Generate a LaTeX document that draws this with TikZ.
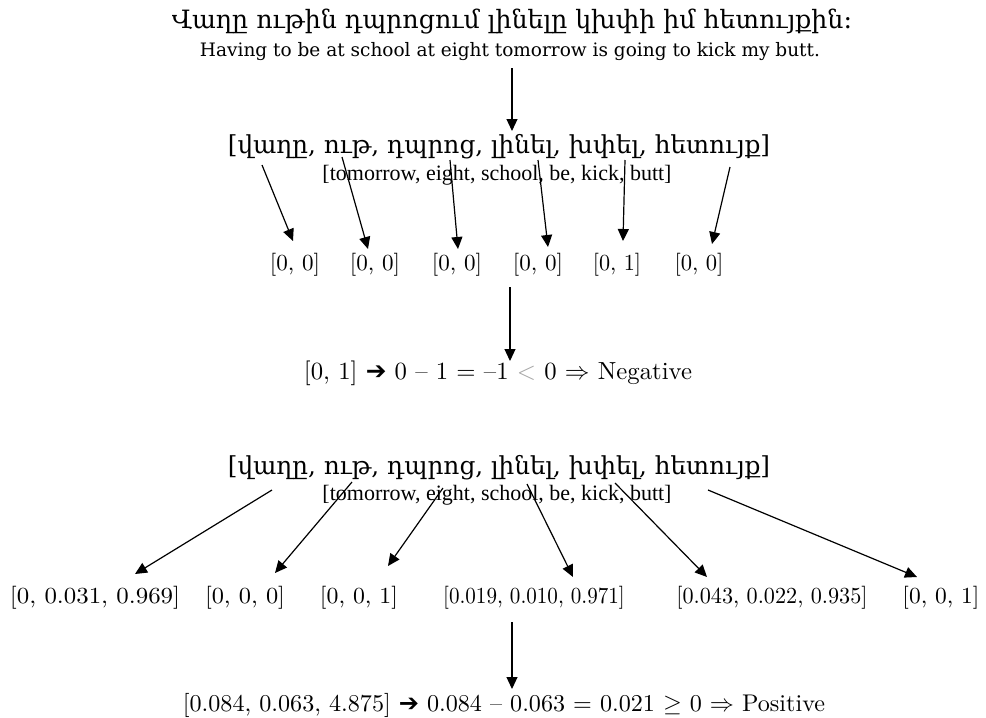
\documentclass[tikz,border=0pt]{standalone}
\usepackage{fontspec}
\usetikzlibrary{arrows.meta}
\newfontfamily\armfont{DejaVu Serif}
\newfontfamily\arrowfont{DejaVu Sans}
\newfontfamily\engfont{Liberation Serif}
\tikzset{
  lbl/.style={inner sep=0pt, anchor=center},
  arr/.style={line width=1.2pt, -{Triangle[length=12pt,width=11pt]}},
}
\newcommand{\fitw}[2]{\resizebox{#1}{!}{#2}}
\newcommand{\hsc}[2]{\scalebox{#1}[2.3]{#2}}
\begin{document}
\begin{tikzpicture}[x=1pt,y=-1pt]
\useasboundingbox (0,0) rectangle (986,718);
% title
\node[lbl] (title) at (512,22) {\fitw{680pt}{\armfont Վաղը ութին դպրոցում լինելը կխփի իմ հետույքին։}};
\node[lbl] (sub) at (510,52) {\fitw{620pt}{\armfont Having to be at school at eight tomorrow is going to kick my butt.}};
\coordinate (t0) at (512,68);
\coordinate (h0) at (512,131);
\draw[arr] (t0) -- (h0);
% tokens 1
\node[lbl] (tok1) at (499,147) {\fitw{542pt}{\armfont [վաղը, ութ, դպրոց, լինել, խփել, հետույք]}};
\node[lbl] (en1) at (497,175) {\fitw{349pt}{\engfont [tomorrow, eight, school, be, kick, butt]}};
% vectors 1
\node[lbl] (a1) at (295,265) {\hsc{2.31}{[0, 0]}};
\node[lbl] (a2) at (375,265) {\hsc{2.31}{[0, 0]}};
\node[lbl] (a3) at (457,265) {\hsc{2.31}{[0, 0]}};
\node[lbl] (a4) at (538,265) {\hsc{2.31}{[0, 0]}};
\node[lbl] (a5) at (617,265) {\hsc{2.22}{[0, 1]}};
\node[lbl] (a6) at (699,265) {\hsc{2.26}{[0, 0]}};
\coordinate (s1) at (262,165); \coordinate (e1) at (293,241);
\coordinate (s2) at (342,157); \coordinate (e2) at (368,249);
\coordinate (s3) at (450,160); \coordinate (e3) at (458,249);
\coordinate (s4) at (538,160); \coordinate (e4) at (548,247);
\coordinate (s5) at (625,160); \coordinate (e5) at (623,241);
\coordinate (s6) at (730,167); \coordinate (e6) at (712,244);
\foreach \i in {1,...,6} \draw[arr] (s\i) -- (e\i);
% result 1
\coordinate (m1) at (510,287);
\coordinate (n1) at (510,361);
\draw[arr] (m1) -- (n1);
\node[lbl] (neg) at (498,373) {\fitw{388pt}{[0, 1] {\arrowfont\bfseries ➔} 0 – 1 = –1 {\color{black!35}$<$} 0 $\Rightarrow$ Negative}};
% tokens 2
\node[lbl] (tok2) at (499,468) {\fitw{542pt}{\armfont [վաղը, ութ, դպրոց, լինել, խփել, հետույք]}};
\node[lbl] (en2) at (497,495) {\fitw{349pt}{\engfont [tomorrow, eight, school, be, kick, butt]}};
% vectors 2
\node[lbl] (b1) at (95,598) {\hsc{2.49}{[0, 0.031, 0.969]}};
\node[lbl] (b2) at (245,598) {\hsc{2.44}{[0, 0, 0]}};
\node[lbl] (b3) at (359,598) {\hsc{2.38}{[0, 0, 1]}};
\node[lbl] (b4) at (534,598) {\hsc{2.11}{[0.019, 0.010, 0.971]}};
\node[lbl] (b5) at (772,598) {\hsc{2.22}{[0.043, 0.022, 0.935]}};
\node[lbl] (b6) at (941,598) {\hsc{2.35}{[0, 0, 1]}};
\coordinate (p1) at (272,490); \coordinate (q1) at (135,574);
\coordinate (p2) at (352,482); \coordinate (q2) at (275,573);
\coordinate (p3) at (443,488); \coordinate (q3) at (388,566);
\coordinate (p4) at (527,484); \coordinate (q4) at (573,577);
\coordinate (p5) at (615,483); \coordinate (q5) at (707,577);
\coordinate (p6) at (708,490); \coordinate (q6) at (917,577);
\foreach \i in {1,...,6} \draw[arr] (p\i) -- (q\i);
% result 2
\coordinate (m2) at (512,622);
\coordinate (n2) at (512,689);
\draw[arr] (m2) -- (n2);
\node[lbl] (pos) at (504,705) {\fitw{642pt}{[0.084, 0.063, 4.875] {\arrowfont\bfseries ➔} 0.084 – 0.063 = 0.021 $\geq$ 0 $\Rightarrow$ Positive}};
\end{tikzpicture}
\end{document}
